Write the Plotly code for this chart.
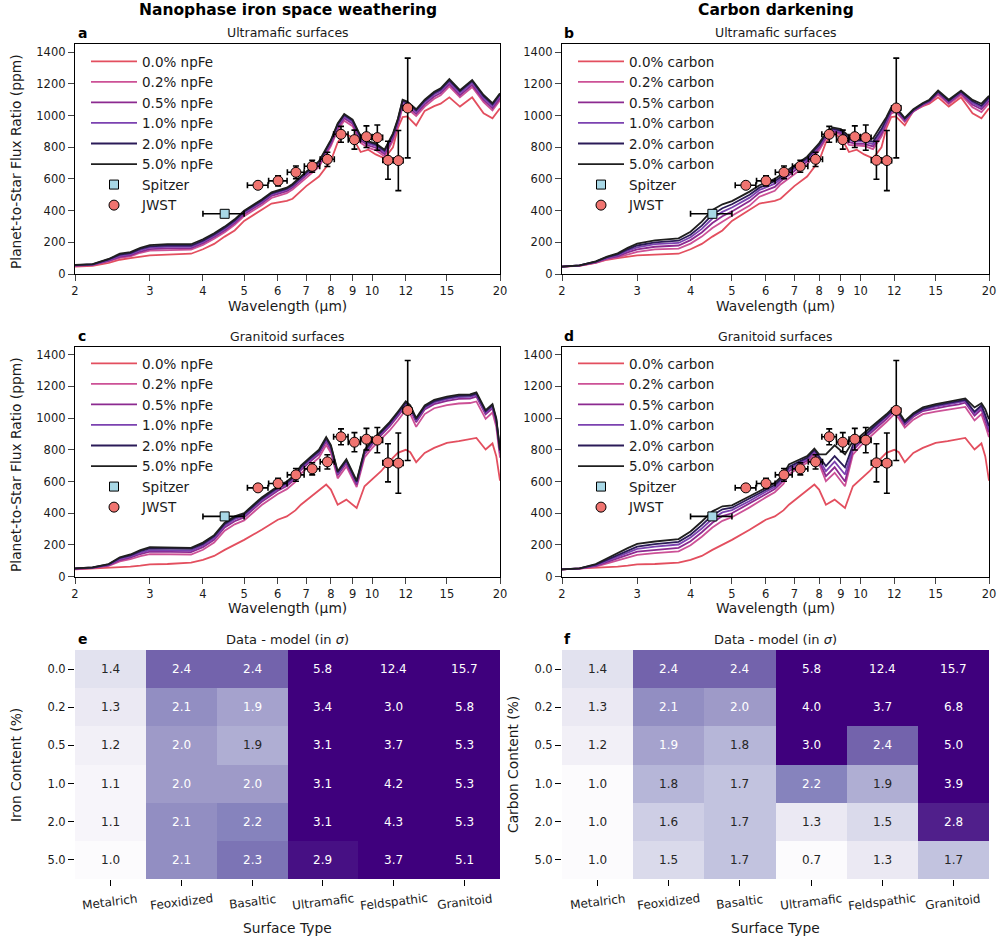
import plotly.graph_objects as go

# ---------------- data ----------------
# wavelength grids (micron)
wl_ultramafic = [2.0, 2.2, 2.4, 2.55, 2.7, 2.85, 3.0, 3.3, 3.75, 4.0, 4.25, 4.5, 4.75, 5.0, 5.5, 5.8,
                 6.3, 6.5, 7.0, 7.5, 8.0, 8.3, 8.6, 9.0, 9.4, 9.8, 10.2, 10.7, 11.2, 11.5, 11.8, 12.1,
                 12.7, 13.3, 14.0, 14.5, 15.2, 16.1, 17.2, 18.3, 19.2, 20.0]
wl_granitoid = [2.0, 2.2, 2.4, 2.55, 2.7, 2.85, 3.0, 3.3, 3.75, 4.0, 4.25, 4.5, 4.75, 5.0, 5.5, 6.0,
                6.3, 6.6, 6.8, 7.2, 7.5, 7.8, 8.0, 8.3, 8.7, 9.2, 9.6, 10.0, 10.5, 11.0, 11.5, 12.0,
                12.3, 12.7, 13.3, 14.0, 15.0, 16.0, 17.0, 17.6, 18.5, 19.2, 19.6, 20.0]

levels = ["0.0", "0.2", "0.5", "1.0", "2.0", "5.0"]

# ultramafic, bare (0%)
ultra_0 = [46, 52, 70, 90, 100, 110, 118, 122, 128, 156, 190, 236, 275, 335, 405, 445, 462, 475, 555, 615,
           715, 830, 888, 862, 770, 785, 755, 730, 800, 920, 990, 995, 938, 1030, 1060, 1075, 1115, 1057,
           1115, 1015, 983, 1046]
# panel a: ultramafic + npFe
ultra_fe_02 = [51, 56, 80, 102, 112, 134, 148, 152, 154, 184, 222, 264, 310, 365, 434, 480, 510, 533, 610, 676,
               808, 908, 968, 933, 828, 796, 782, 742, 842, 935, 1056, 1044, 997, 1057, 1106, 1128, 1185, 1115,
               1180, 1085, 1033, 1096]
ultra_fe_05 = [53, 58, 84, 108, 118, 142, 157, 162, 163, 194, 233, 275, 321, 377, 447, 493, 523, 546, 623, 689,
               822, 923, 983, 948, 843, 811, 797, 757, 857, 950, 1071, 1059, 1011, 1071, 1120, 1142, 1199, 1129,
               1194, 1099, 1047, 1110]
ultra_fe_10 = [55, 60, 88, 115, 125, 150, 166, 171, 172, 203, 242, 284, 330, 386, 456, 502, 532, 555, 633, 699,
               832, 935, 995, 960, 855, 823, 809, 769, 870, 963, 1084, 1072, 1024, 1084, 1133, 1155, 1212, 1142,
               1207, 1112, 1060, 1123]
ultra_fe_20 = [56, 61, 92, 122, 132, 158, 175, 180, 180, 211, 250, 292, 338, 394, 464, 509, 539, 562, 640, 706,
               840, 944, 1004, 969, 864, 832, 818, 778, 880, 973, 1094, 1082, 1034, 1094, 1143, 1165, 1223, 1153,
               1218, 1123, 1071, 1134]
ultra_fe_50 = [57, 62, 95, 128, 138, 165, 182, 188, 188, 219, 257, 299, 345, 400, 470, 515, 545, 568, 646, 712,
               846, 950, 1010, 975, 870, 838, 825, 785, 888, 980, 1100, 1088, 1040, 1100, 1150, 1172, 1230, 1160,
               1225, 1130, 1078, 1141]
# panel b: ultramafic + carbon
ultra_c_02 = [46, 53, 72, 94, 105, 125, 140, 155, 160, 192, 236, 290, 330, 368, 432, 488, 525, 565, 630, 692,
              780, 852, 897, 880, 815, 810, 808, 788, 868, 940, 1012, 1025, 960, 1025, 1063, 1082, 1133, 1072,
              1130, 1052, 1022, 1077]
ultra_c_05 = [46, 53, 74, 98, 111, 137, 155, 172, 180, 214, 262, 322, 365, 395, 460, 512, 550, 585, 650, 710,
              795, 862, 905, 890, 832, 822, 822, 805, 885, 952, 1024, 1035, 968, 1028, 1068, 1088, 1142, 1080,
              1140, 1068, 1040, 1093]
ultra_c_10 = [46, 54, 76, 102, 118, 147, 168, 188, 196, 232, 285, 350, 392, 420, 482, 530, 570, 600, 665, 722,
              806, 872, 912, 898, 845, 835, 835, 820, 900, 965, 1033, 1042, 975, 1032, 1072, 1092, 1148, 1088,
              1148, 1080, 1052, 1105]
ultra_c_20 = [46, 54, 78, 106, 124, 156, 180, 200, 210, 248, 305, 375, 415, 440, 500, 545, 585, 612, 676, 732,
              815, 880, 918, 905, 855, 845, 845, 835, 915, 975, 1040, 1048, 980, 1035, 1075, 1095, 1152, 1093,
              1152, 1090, 1062, 1115]
ultra_c_50 = [46, 55, 80, 110, 130, 165, 192, 212, 225, 267, 330, 405, 440, 460, 520, 560, 600, 625, 688, 741,
              825, 890, 925, 915, 870, 860, 860, 855, 940, 990, 1050, 1055, 985, 1040, 1080, 1100, 1158, 1100,
              1158, 1099, 1075, 1125]

# granitoid, bare (0%)
gran_0 = [46, 51, 55, 57, 63, 70, 78, 80, 89, 106, 131, 169, 201, 232, 296, 359, 380, 418, 454, 507, 539, 581,
          549, 454, 486, 433, 570, 612, 665, 729, 781, 800, 785, 722, 780, 812, 844, 855, 865, 875, 802, 840, 760, 605]
# panel c: granitoid + npFe
gran_fe_02 = [49, 54, 68, 97, 110, 130, 142, 142, 140, 170, 215, 290, 330, 355, 452, 522, 552, 597, 650, 710, 750,
              830, 782, 620, 695, 565, 752, 810, 868, 922, 985, 1050, 1025, 945, 1025, 1062, 1082, 1092, 1095, 1105,
              995, 1035, 945, 750]
gran_fe_05 = [50, 56, 72, 105, 120, 143, 158, 158, 155, 186, 233, 310, 350, 374, 472, 542, 572, 617, 672, 732, 772,
              852, 802, 640, 715, 580, 772, 832, 892, 947, 1012, 1077, 1052, 974, 1054, 1088, 1108, 1121, 1123, 1135,
              1024, 1061, 974, 778]
gran_fe_10 = [51, 57, 75, 112, 128, 152, 168, 168, 165, 197, 244, 322, 362, 385, 483, 553, 583, 628, 683, 743, 783,
              863, 813, 650, 725, 590, 783, 843, 903, 958, 1023, 1088, 1063, 984, 1064, 1099, 1119, 1132, 1134, 1146,
              1034, 1072, 984, 788]
gran_fe_20 = [52, 58, 78, 118, 135, 161, 178, 178, 175, 207, 254, 332, 372, 394, 492, 562, 592, 637, 692, 752, 792,
              872, 822, 658, 733, 598, 792, 852, 912, 967, 1032, 1097, 1072, 992, 1072, 1107, 1127, 1140, 1142, 1154,
              1042, 1080, 992, 795]
gran_fe_50 = [53, 59, 80, 122, 140, 168, 186, 186, 182, 215, 262, 340, 380, 401, 500, 570, 600, 645, 700, 760, 800,
              880, 830, 665, 740, 605, 800, 860, 920, 975, 1040, 1105, 1080, 1000, 1080, 1115, 1135, 1148, 1150, 1162,
              1050, 1088, 1000, 800]
# panel d: granitoid + carbon
gran_c_02 = [46, 51, 64, 85, 102, 122, 138, 148, 160, 198, 252, 310, 352, 375, 437, 500, 533, 585, 645, 690, 718,
             770, 712, 602, 655, 570, 770, 825, 875, 928, 975, 1025, 998, 940, 990, 1025, 1040, 1052, 1060, 1070,
             985, 1025, 955, 880]
gran_c_05 = [46, 51, 68, 94, 115, 138, 158, 170, 182, 224, 280, 340, 382, 400, 460, 520, 552, 605, 665, 705, 732,
             785, 730, 634, 690, 600, 795, 848, 898, 950, 994, 1046, 1017, 958, 1008, 1044, 1062, 1076, 1087, 1097,
             1015, 1055, 985, 910]
gran_c_10 = [46, 52, 72, 101, 126, 152, 175, 190, 203, 247, 304, 365, 405, 420, 477, 535, 566, 618, 680, 717, 742,
             792, 742, 665, 725, 644, 812, 860, 910, 960, 1004, 1055, 1025, 967, 1016, 1052, 1072, 1086, 1097, 1107,
             1030, 1070, 1005, 930]
gran_c_20 = [46, 52, 76, 108, 136, 165, 190, 205, 220, 265, 325, 388, 425, 435, 492, 547, 578, 630, 692, 727, 750,
             800, 755, 697, 760, 690, 830, 870, 920, 970, 1012, 1062, 1032, 973, 1022, 1058, 1080, 1094, 1105, 1115,
             1040, 1080, 1020, 950]
gran_c_50 = [46, 53, 80, 116, 148, 180, 207, 222, 237, 285, 348, 412, 444, 450, 507, 560, 591, 644, 708, 739, 760,
             807, 771, 771, 828, 771, 855, 887, 933, 982, 1024, 1073, 1040, 982, 1030, 1067, 1088, 1102, 1113, 1124,
             1067, 1094, 1056, 993]

# observations
jwst_wl = [5.39, 6.01, 6.62, 7.23, 7.85, 8.45, 9.09, 9.70, 10.29, 10.90, 11.53, 12.13]
jwst_fp = [560, 588, 642, 680, 724, 882, 848, 867, 861, 718, 716, 1048]
jwst_err = [20, 32, 40, 38, 45, 50, 60, 68, 80, 120, 190, 315]
jwst_wl_err = [0.3, 0.3, 0.3, 0.3, 0.3, 0.33, 0.3, 0.3, 0.3, 0.3, 0.3, 0.3]
spitzer_wl = [4.5]
spitzer_fp = [380]
spitzer_err = [22]
spitzer_wl_err = [0.5]

# heatmaps
surfaces = ["Metalrich", "Feoxidized", "Basaltic", "Ultramafic", "Feldspathic", "Granitoid"]
contents = ["0.0", "0.2", "0.5", "1.0", "2.0", "5.0"]
sigma_iron = [[1.4, 2.4, 2.4, 5.8, 12.4, 15.7],
              [1.3, 2.1, 1.94, 3.4, 3.0, 5.8],
              [1.2, 2.0, 1.86, 3.1, 3.7, 5.3],
              [1.1, 2.0, 2.0, 3.1, 4.2, 5.3],
              [1.1, 2.1, 2.2, 3.1, 4.3, 5.3],
              [1.0, 2.1, 2.3, 2.9, 3.7, 5.1]]
sigma_carbon = [[1.4, 2.4, 2.4, 5.8, 12.4, 15.7],
                [1.3, 2.1, 2.0, 4.0, 3.7, 6.8],
                [1.2, 1.94, 1.8, 3.0, 2.4, 5.0],
                [1.0, 1.8, 1.7, 2.2, 1.86, 3.9],
                [1.0, 1.6, 1.7, 1.3, 1.5, 2.8],
                [1.0, 1.5, 1.7, 0.7, 1.3, 1.7]]

# ---------------- styling ----------------
line_colors = ["#e34f5f", "#cc5196", "#8c2a90", "#7b42b0", "#2b1b58", "#1f1f1f"]
FONT = "DejaVu Sans"
TXT = "#1a1a1a"
AXT = 13.8  # axis-title size

W, H = 1000, 941
def px(x):
    return x / W
def py(y):
    return 1 - y / H

x_left = [px(75), px(500)]
x_right = [px(562), px(989)]
y_row1 = [py(274), py(44.3)]
y_row2 = [py(576.7), py(346.7)]
y_row3 = [py(879), py(650)]

fig = go.Figure()

panels = [
    ("x", "y", "legend", wl_ultramafic, [ultra_0, ultra_fe_02, ultra_fe_05, ultra_fe_10, ultra_fe_20, ultra_fe_50], "npFe"),
    ("x2", "y2", "legend2", wl_ultramafic, [ultra_0, ultra_c_02, ultra_c_05, ultra_c_10, ultra_c_20, ultra_c_50], "carbon"),
    ("x3", "y3", "legend3", wl_granitoid, [gran_0, gran_fe_02, gran_fe_05, gran_fe_10, gran_fe_20, gran_fe_50], "npFe"),
    ("x4", "y4", "legend4", wl_granitoid, [gran_0, gran_c_02, gran_c_05, gran_c_10, gran_c_20, gran_c_50], "carbon"),
]

for xa, ya, lg, wl, series, agent in panels:
    for lvl, s, col in zip(levels, series, line_colors):
        fig.add_trace(go.Scatter(x=wl, y=s, mode="lines", xaxis=xa, yaxis=ya, legend=lg,
                                 name=f"{lvl}% {agent}", line=dict(color=col, width=1.8)))
    fig.add_trace(go.Scatter(x=spitzer_wl, y=spitzer_fp, mode="markers", xaxis=xa, yaxis=ya, legend=lg,
                             name="Spitzer",
                             error_y=dict(type="data", array=spitzer_err, color="black", thickness=1.6, width=3),
                             error_x=dict(type="data", array=spitzer_wl_err, color="black", thickness=1.6, width=3),
                             marker=dict(symbol="square", size=9, color="#a8d8e6", line=dict(color="black", width=1))))
    fig.add_trace(go.Scatter(x=jwst_wl, y=jwst_fp, mode="markers", xaxis=xa, yaxis=ya, legend=lg,
                             name="JWST",
                             error_y=dict(type="data", array=jwst_err, color="black", thickness=1.6, width=3),
                             error_x=dict(type="data", array=jwst_wl_err, color="black", thickness=1.6, width=3),
                             marker=dict(symbol="circle", size=10, color="#f07470", line=dict(color="black", width=1))))

purples = [[0.0, "#fcfbfd"], [0.125, "#efedf5"], [0.25, "#dadaeb"], [0.375, "#bcbddc"], [0.5, "#9e9ac8"],
           [0.625, "#807dba"], [0.75, "#6a51a3"], [0.875, "#54278f"], [1.0, "#3f007d"]]

annotations = []
for xa, ya, z in [("x5", "y5", sigma_iron), ("x6", "y6", sigma_carbon)]:
    fig.add_trace(go.Heatmap(z=z, x=surfaces, y=contents, xaxis=xa, yaxis=ya, colorscale=purples,
                             zmin=1.0, zmax=3.0, showscale=False, hoverongaps=False))
    for i, row in enumerate(z):
        for j, v in enumerate(row):
            annotations.append(dict(x=j, y=i, xref=xa, yref=ya, text=f"{v:.1f}",
                                    showarrow=False,
                                    font=dict(family=FONT, size=12, color="white" if v >= 1.9 else "#262626")))
    # slightly rotated, centred category labels under the heatmap
    for j, s in enumerate(surfaces):
        annotations.append(dict(x=j, y=py(902), xref=xa, yref="paper", text=s, showarrow=False,
                                textangle=-7, xanchor="center", yanchor="middle",
                                font=dict(family=FONT, size=12, color=TXT)))

tickvals = [2, 3, 4, 5, 6, 7, 8, 9, 10, 12, 15, 20]
def spec_x(dom, anchor):
    return dict(domain=dom, anchor=anchor, type="log", range=[0.30103, 1.30103], tickvals=tickvals,
                ticktext=[str(t) for t in tickvals], ticks="outside", ticklen=6, tickwidth=1.2,
                showline=True, linecolor="black", linewidth=1.3, mirror=True, showgrid=False, zeroline=False,
                automargin=False, tickfont=dict(family=FONT, size=11.5, color=TXT))
def spec_y(dom, anchor):
    return dict(domain=dom, anchor=anchor, range=[0, 1450], tickvals=list(range(0, 1401, 200)),
                ticks="outside", ticklen=6, tickwidth=1.2, showline=True, linecolor="black", linewidth=1.3,
                mirror=True, showgrid=False, zeroline=False, automargin=False,
                tickfont=dict(family=FONT, size=11.5, color=TXT))
def heat_x(dom, anchor):
    return dict(domain=dom, anchor=anchor, type="category", ticks="outside", ticklen=6, tickwidth=1.2,
                tickcolor="black", showline=False, showgrid=False, zeroline=False, showticklabels=False,
                automargin=False)
def heat_y(dom, anchor):
    return dict(domain=dom, anchor=anchor, type="category", autorange="reversed", ticks="outside", ticklen=6,
                tickwidth=1.2, tickcolor="black", showline=False, showgrid=False, zeroline=False,
                automargin=False, tickfont=dict(family=FONT, size=11.5, color=TXT))

def legend_at(x, y):
    return dict(x=x, y=y, xanchor="left", yanchor="top", bgcolor="rgba(0,0,0,0)", borderwidth=0,
                font=dict(family=FONT, size=13.5, color=TXT), tracegroupgap=0, itemwidth=46)

def txt(x, y, text, size=12, bold=False, xanchor="center", angle=0):
    t = f"<b>{text}</b>" if bold else text
    return dict(x=px(x), y=py(y), xref="paper", yref="paper", text=t, showarrow=False, xanchor=xanchor,
                yanchor="middle", textangle=angle, font=dict(family=FONT, size=size, color="black" if bold else TXT))

annotations += [
    txt(287.5, 10, "Nanophase iron space weathering", 15.5, True),
    txt(775.5, 10, "Carbon darkening", 15.5, True),
    txt(76, 33, "a", 14, True, "left"), txt(287.5, 33, "Ultramafic surfaces", 12.5),
    txt(562, 33, "b", 14, True, "left"), txt(775.5, 33, "Ultramafic surfaces", 12.5),
    txt(76, 336, "c", 14, True, "left"), txt(287.5, 336, "Granitoid surfaces", 12.5),
    txt(562, 336, "d", 14, True, "left"), txt(775.5, 336, "Granitoid surfaces", 12.5),
    txt(76, 639, "e", 14, True, "left"), txt(287.5, 639, "Data - model (in <i>σ</i>)", 13),
    txt(562, 639, "f", 14, True, "left"), txt(775.5, 639, "Data - model (in <i>σ</i>)", 13),
    txt(287.5, 306, "Wavelength (µm)", AXT), txt(775.5, 306, "Wavelength (µm)", AXT),
    txt(287.5, 608, "Wavelength (µm)", AXT), txt(775.5, 608, "Wavelength (µm)", AXT),
    txt(16, 162, "Planet-to-Star Flux Ratio (ppm)", AXT, angle=-90),
    txt(16, 465, "Planet-to-Star Flux Ratio (ppm)", AXT, angle=-90),
    txt(16, 765, "Iron Content (%)", AXT, angle=-90),
    txt(513, 765, "Carbon Content (%)", AXT, angle=-90),
    txt(287.5, 928, "Surface Type", AXT), txt(775.5, 928, "Surface Type", AXT),
]

fig.update_layout(
    width=W, height=H, margin=dict(l=0, r=0, t=0, b=0, pad=0, autoexpand=False),
    paper_bgcolor="white", plot_bgcolor="white",
    font=dict(family=FONT, color=TXT),
    showlegend=True,
    xaxis=spec_x(x_left, "y"), yaxis=spec_y(y_row1, "x"),
    xaxis2=spec_x(x_right, "y2"), yaxis2=spec_y(y_row1, "x2"),
    xaxis3=spec_x(x_left, "y3"), yaxis3=spec_y(y_row2, "x3"),
    xaxis4=spec_x(x_right, "y4"), yaxis4=spec_y(y_row2, "x4"),
    xaxis5=heat_x(x_left, "y5"), yaxis5=heat_y(y_row3, "x5"),
    xaxis6=heat_x(x_right, "y6"), yaxis6=heat_y(y_row3, "x6"),
    legend=legend_at(px(86), py(46)),
    legend2=legend_at(px(573), py(46)),
    legend3=legend_at(px(86), py(348)),
    legend4=legend_at(px(573), py(348)),
    annotations=annotations,
)

fig.write_html("out.html")
